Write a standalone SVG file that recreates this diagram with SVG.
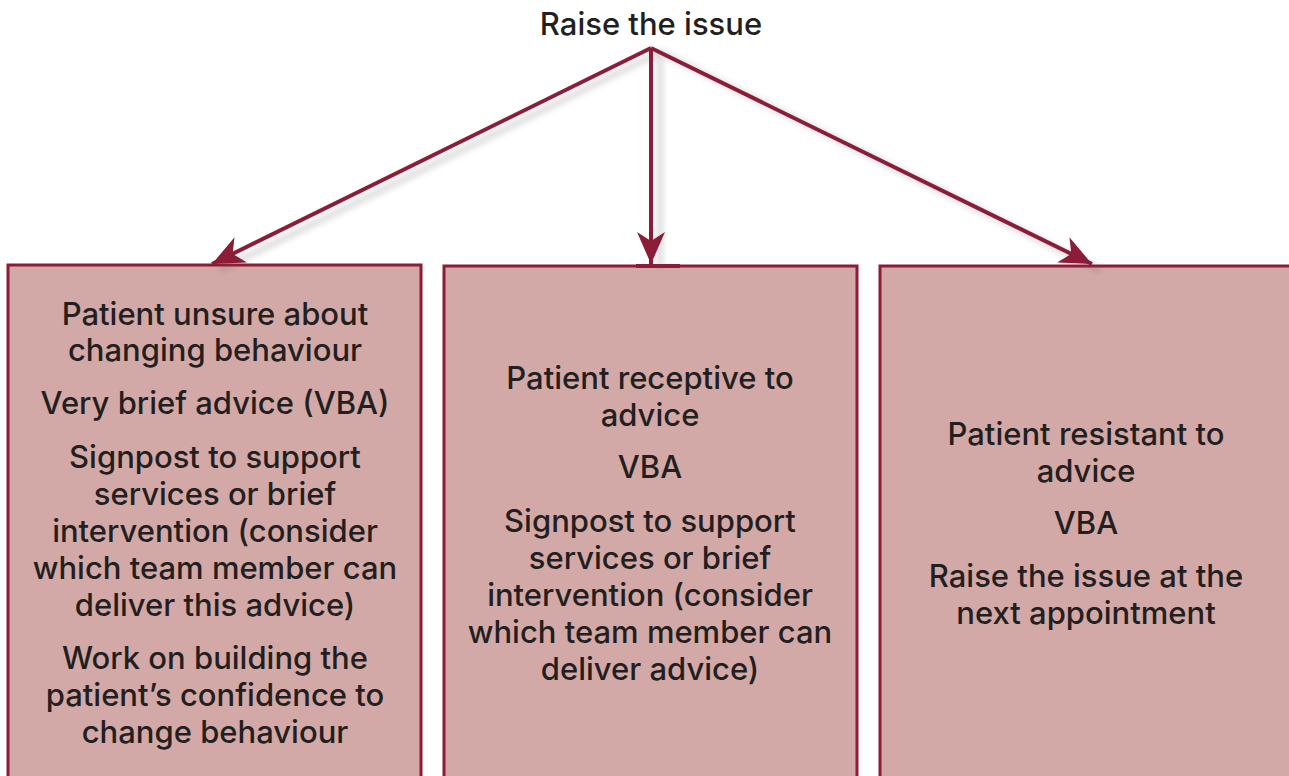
<svg xmlns="http://www.w3.org/2000/svg" width="1289" height="776" viewBox="0 0 1289 776">
<defs>
<style>
.box{fill:#d3a9a7;stroke:#8c1c37;stroke-width:3}
.t{font-family:"Inter","Liberation Sans",Arial,sans-serif;font-weight:500;font-size:31px;fill:#231f20;text-anchor:middle}
.c{stroke:#8c1c37;stroke-width:4;fill:none}
</style>
<marker id="ah" markerUnits="userSpaceOnUse" markerWidth="36" markerHeight="30" refX="32" refY="15" orient="auto">
<path d="M0,1 L32,15 L0,29 L9,15 Z" fill="#8c1c37"/>
</marker>
<filter id="sh" x="-20%" y="-20%" width="140%" height="140%">
<feGaussianBlur stdDeviation="3"/>
</filter>
</defs>
<rect width="1289" height="776" fill="#ffffff"/>
<text class="t" x="651" y="35">Raise the issue</text>
<g id="box-left">
<rect class="box" x="8" y="265" width="413" height="530"/>
<text class="t" x="215" y="325">Patient unsure about</text>
<text class="t" x="215" y="361">changing behaviour</text>
<text class="t" x="215" y="414">Very brief advice (VBA)</text>
<text class="t" x="215" y="468">Signpost to support</text>
<text class="t" x="215" y="505">services or brief</text>
<text class="t" x="215" y="542">intervention (consider</text>
<text class="t" x="215" y="579">which team member can</text>
<text class="t" x="215" y="616">deliver this advice)</text>
<text class="t" x="215" y="669">Work on building the</text>
<text class="t" x="215" y="706">patient’s confidence to</text>
<text class="t" x="215" y="743">change behaviour</text>
</g>
<g id="box-middle">
<rect class="box" x="444" y="266" width="413" height="530"/>
<rect x="636" y="264" width="44" height="4" fill="#8c1c37"/>
<text class="t" x="650" y="389">Patient receptive to</text>
<text class="t" x="650" y="426">advice</text>
<text class="t" x="650" y="478">VBA</text>
<text class="t" x="650" y="532">Signpost to support</text>
<text class="t" x="650" y="569">services or brief</text>
<text class="t" x="650" y="606">intervention (consider</text>
<text class="t" x="650" y="643">which team member can</text>
<text class="t" x="650" y="680">deliver advice)</text>
</g>
<g id="box-right">
<rect class="box" x="880" y="266" width="430" height="530"/>
<text class="t" x="1086" y="445">Patient resistant to</text>
<text class="t" x="1086" y="482">advice</text>
<text class="t" x="1086" y="534">VBA</text>
<text class="t" x="1086" y="587">Raise the issue at the</text>
<text class="t" x="1086" y="624">next appointment</text>
</g>
<g id="connectors">
<g opacity="0.25" filter="url(#sh)">
<path d="M660,52 L220,270 M660,52 L660,268 M660,52 L1100,270" stroke="#555" stroke-width="5" fill="none"/>
</g>
<path class="c" d="M651,48 L212,264" marker-end="url(#ah)"/>
<path class="c" d="M651,48 L651,264" marker-end="url(#ah)"/>
<path class="c" d="M651,48 L1092,264" marker-end="url(#ah)"/>
</g>
</svg>
